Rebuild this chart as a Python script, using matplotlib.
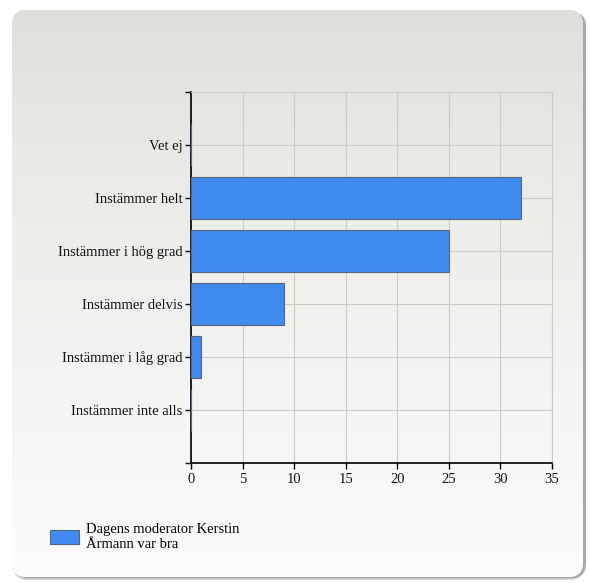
import numpy as np
import matplotlib
matplotlib.use('Agg')
from matplotlib import pyplot as plt
from matplotlib.patches import FancyBboxPatch

# data
categories = ['Instämmer inte alls', 'Instämmer i låg grad', 'Instämmer delvis',
              'Instämmer i hög grad', 'Instämmer helt', 'Vet ej']
values = [0, 1, 9, 25, 32, 0]
series_name = 'Dagens moderator Kerstin\nÅrmann var bra'
xticks = [0, 5, 10, 15, 20, 25, 30, 35]

plt.rcParams['font.family'] = ['Liberation Serif', 'DejaVu Serif']

fig = plt.figure(figsize=(5.89, 5.83), dpi=100)
fig.patch.set_facecolor('white')

W, H = 589.0, 583.0
px = lambda x: x / W
py = lambda y: (H - y) / H

# background panel: shadow + rounded box with vertical gradient
bg = fig.add_axes([0, 0, 1, 1], zorder=0)
bg.set_axis_off()
bg.set_xlim(0, 1)
bg.set_ylim(0, 1)
for i, c in enumerate(['#d8d8d8', '#c0c0c0', '#a8a8a8']):
    sh = FancyBboxPatch((px(13 + i), py(580 - i)), px(571), (580 - 12 - i) / H,
                        boxstyle='round,pad=0,rounding_size=0.025',
                        transform=bg.transAxes, facecolor=c,
                        edgecolor='none', zorder=1 + i * 0.1)
    bg.add_patch(sh)
panel = FancyBboxPatch((px(12), py(577)), px(571), (577 - 10) / H,
                       boxstyle='round,pad=0,rounding_size=0.025',
                       transform=bg.transAxes, facecolor='#eeeeea',
                       edgecolor='none', zorder=2)
bg.add_patch(panel)
grad = np.linspace(0, 1, 256).reshape(-1, 1)
top_c = np.array([223, 223, 217]) / 255.0
bot_c = np.array([252, 252, 252]) / 255.0
img = top_c + (bot_c - top_c) * grad[..., None] ** 0.8
im = bg.imshow(img, extent=[px(12), px(583), py(577), py(10)], aspect='auto',
               transform=bg.transAxes, zorder=3)
im.set_clip_path(panel)
bg.set_xlim(0, 1)
bg.set_ylim(0, 1)

ax = fig.add_axes([191 / W, 120 / H, 361 / W, 371 / H], zorder=1)
ax.patch.set_alpha(0)
y = np.arange(len(categories))
ax.barh(y, values, height=0.8, color='#3f8bef', edgecolor='#56657a',
        linewidth=0.8, zorder=3, label=series_name)

ax.set_xlim(0, 35)
ax.set_ylim(-1, 6)
ax.set_xticks(xticks)
ax.set_yticks(np.arange(-1, 7))
ax.set_yticklabels([''] + categories + [''])
ax.grid(True, color='#cbcbc7', linewidth=0.8, zorder=0)
ax.tick_params(axis='both', length=4, width=1, color='black', labelsize=10.5,
               labelcolor='#111111')
ax.tick_params(axis='y', pad=2)
ax.tick_params(axis='x', pad=3)
for s in ['top', 'right']:
    ax.spines[s].set_color('#cbcbc7')
    ax.spines[s].set_linewidth(0.8)
for s in ['left', 'bottom']:
    ax.spines[s].set_color('black')
    ax.spines[s].set_linewidth(1.2)

ax.legend(loc='upper left', bbox_to_anchor=(50 / W, py(523)),
          bbox_transform=fig.transFigure, frameon=False, fontsize=10.5,
          handlelength=2.0, handleheight=1.0, handletextpad=0.5,
          labelspacing=0.1, borderpad=0, borderaxespad=0)

plt.savefig('out.png', dpi=100)
